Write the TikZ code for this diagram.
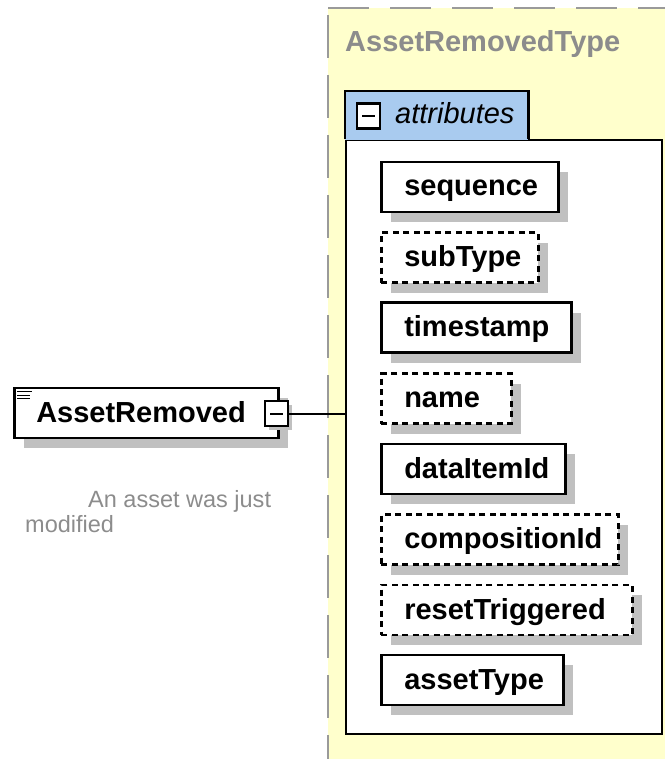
\documentclass[tikz,border=0pt]{standalone}
\usepackage{fontspec}
\setmainfont{Liberation Sans}
\usetikzlibrary{shadows}
\definecolor{typefill}{HTML}{FFFFCC}
\definecolor{typeedge}{HTML}{9A9A9A}
\definecolor{tabfill}{HTML}{A9CBEF}
\definecolor{shade}{HTML}{C0C0C0}
\definecolor{note}{HTML}{8C8C8C}
% box of a given width with its text set flush left after a fixed indent
\newcommand{\lefttext}[2]{\makebox[#1pt][l]{\hspace*{23pt}#2}}
\begin{document}
\begin{tikzpicture}[x=1pt,y=-1pt,
  big/.style={font=\fontsize{29}{34}\selectfont\bfseries},
  boxshadow/.style={drop shadow={shadow xshift=10pt, shadow yshift=-10pt, fill=shade, opacity=1}},
  attr/.style={draw=black, line width=2.5pt, fill=white, big, anchor=west,
    minimum height=50pt, inner xsep=0pt, inner ysep=0pt,
    text height=24pt, text depth=6pt, boxshadow},
  optattr/.style={attr, dash pattern=on 6pt off 4.5pt},
  toggle/.style={draw=black, line width=2.4pt, fill=white, inner sep=0pt,
    minimum width=23pt, minimum height=25pt,
    path picture={\draw[line width=2pt] ([xshift=5pt]path picture bounding box.west) -- ([xshift=-5pt]path picture bounding box.east);}},
  link/.style={draw=black, line width=2pt}]
\useasboundingbox (0,0) rectangle (665,759);

% complex type area
\fill[typefill] (328,8) rectangle (665,759);
\draw[typeedge, line width=2.2pt, dash pattern=on 41pt off 21pt] (328,8) -- (665,8);
\draw[typeedge, line width=2.2pt, dash pattern=on 43pt off 17pt] (328,15) -- (328,759);
\node[big, text=note, anchor=base west, inner sep=0pt] (title) at (345,52) {AssetRemovedType};

% attribute group
\node[draw=black, line width=2.4pt, fill=white, anchor=north west, inner sep=0pt,
  minimum width=316pt, minimum height=594pt] (attrbox) at (345,139) {};
\node[fill=tabfill, anchor=north west, inner ysep=0pt, inner xsep=12pt,
  minimum height=49pt, text height=22pt, text depth=6pt,
  font=\fontsize{29}{34}\selectfont\itshape] (tab) at (345,91)
  {\hspace*{38pt}attributes\hspace*{2pt}};
\draw[line width=2.4pt] ([yshift=1pt]tab.south west) -- (tab.north west) -- (tab.north east) -- ([yshift=1pt]tab.south east);
\node[toggle] (tabtoggle) at (368.5,116) {};

% attributes
\node[attr]    (sequence)   at (380,187)   {\lefttext{177}{sequence}};
\node[optattr] (subtype)    at (380,257.5) {\lefttext{157}{subType}};
\node[attr]    (timestamp)  at (380,327.5) {\lefttext{190}{timestamp}};
\node[optattr] (name)       at (380,398.5) {\lefttext{130}{name}};
\node[attr]    (dataitemid) at (380,469)   {\lefttext{184}{dataItemId}};
\node[optattr] (compid)     at (380,539.5) {\lefttext{237}{compositionId}};
\node[optattr] (reset)      at (380,610)   {\lefttext{251}{resetTriggered}};
\node[attr]    (assettype)  at (380,680)   {\lefttext{182}{assetType}};

% element
\node[attr] (element) at (13,413) {\makebox[264pt][l]{\hspace*{22pt}AssetRemoved}};
\foreach \dy/\len in {5/15,8.5/13,12/13}
  \draw[line width=1.3pt] ([xshift=4pt,yshift=-\dy pt]element.north west) -- ++(\len,0);
\node[toggle, drop shadow={shadow xshift=4pt, shadow yshift=-4pt, fill=shade, opacity=1}] (eltoggle) at (276.5,413.5) {};
\draw[link] (eltoggle.east) -- (eltoggle.east -| attrbox.west);

% documentation
\node[text=note, font=\fontsize{23.5}{26}\selectfont, anchor=base west, inner sep=0pt] (desc) at (88,507) {An asset was just};
\node[text=note, font=\fontsize{23.5}{26}\selectfont, anchor=base west, inner sep=0pt] (descb) at (25,532) {modified};
\end{tikzpicture}
\end{document}
